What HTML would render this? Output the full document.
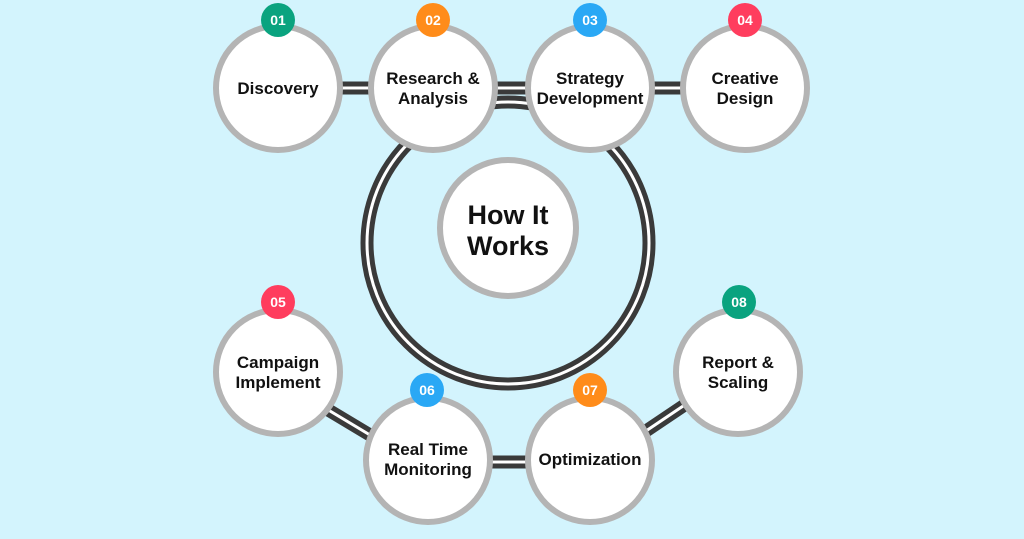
<!DOCTYPE html>
<html><head><meta charset="utf-8"><style>
html,body{margin:0;padding:0;background:#d3f4fd;}
svg{display:block}
text{font-family:"Liberation Sans",sans-serif;font-weight:bold;fill:#111;text-anchor:middle}
.b{fill:#fff;font-size:14px}
</style></head><body>
<svg width="1024" height="539" viewBox="0 0 1024 539">
<rect width="1024" height="539" fill="#d3f4fd"/>
<g fill="none">
<circle cx="508" cy="243" r="141" stroke="#3a3a3a" stroke-width="13"/>
<circle cx="508" cy="243" r="141" stroke="#fff" stroke-width="3"/>
<g stroke="#3a3a3a" stroke-width="13">
<line x1="330" y1="88" x2="380" y2="88"/><line x1="485" y1="88" x2="540" y2="88"/><line x1="640" y1="88" x2="695" y2="88"/>
<line x1="320" y1="405" x2="375" y2="438"/><line x1="475" y1="462" x2="540" y2="462"/><line x1="640" y1="435" x2="695" y2="398"/>
</g>
<g stroke="#fff" stroke-width="3">
<line x1="330" y1="88" x2="380" y2="88"/><line x1="485" y1="88" x2="540" y2="88"/><line x1="640" y1="88" x2="695" y2="88"/>
<line x1="320" y1="405" x2="375" y2="438"/><line x1="475" y1="462" x2="540" y2="462"/><line x1="640" y1="435" x2="695" y2="398"/>
</g>
</g>
<g fill="#fff" stroke="#b4b4b4" stroke-width="6">
<circle cx="278" cy="88" r="62"/><circle cx="433" cy="88" r="62"/><circle cx="590" cy="88" r="62"/><circle cx="745" cy="88" r="62"/>
<circle cx="508" cy="228" r="68"/>
<circle cx="278" cy="372" r="62"/><circle cx="428" cy="460" r="62"/><circle cx="590" cy="460" r="62"/><circle cx="738" cy="372" r="62"/>
</g>
<circle cx="278" cy="20" r="17" fill="#0aa37f"/><text class="b" x="278" y="25">01</text>
<circle cx="433" cy="20" r="17" fill="#ff8c1a"/><text class="b" x="433" y="25">02</text>
<circle cx="590" cy="20" r="17" fill="#2aa8f5"/><text class="b" x="590" y="25">03</text>
<circle cx="745" cy="20" r="17" fill="#ff3d5e"/><text class="b" x="745" y="25">04</text>
<circle cx="278" cy="302" r="17" fill="#ff3d5e"/><text class="b" x="278" y="307">05</text>
<circle cx="427" cy="390" r="17" fill="#2aa8f5"/><text class="b" x="427" y="395">06</text>
<circle cx="590" cy="390" r="17" fill="#ff8c1a"/><text class="b" x="590" y="395">07</text>
<circle cx="739" cy="302" r="17" fill="#0aa37f"/><text class="b" x="739" y="307">08</text>
<g font-size="17">
<text x="278" y="94">Discovery</text>
<text x="433" y="84">Research &amp;</text><text x="433" y="104">Analysis</text>
<text x="590" y="84">Strategy</text><text x="590" y="104">Development</text>
<text x="745" y="84">Creative</text><text x="745" y="104">Design</text>
<text x="278" y="368">Campaign</text><text x="278" y="388">Implement</text>
<text x="428" y="455">Real Time</text><text x="428" y="475">Monitoring</text>
<text x="590" y="465">Optimization</text>
<text x="738" y="368">Report &amp;</text><text x="738" y="388">Scaling</text>
</g>
<text x="508" y="224" font-size="27">How It</text>
<text x="508" y="255" font-size="27">Works</text>
</svg>
</body></html>
